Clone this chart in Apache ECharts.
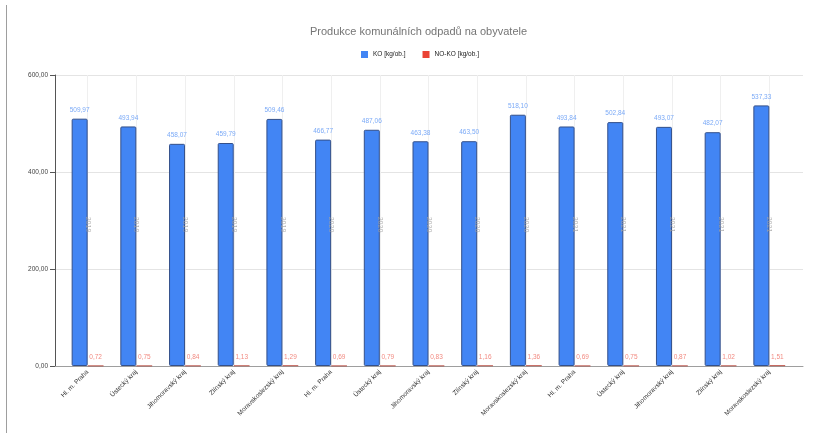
<!DOCTYPE html>
<html><head><meta charset="utf-8">
<script src="https://cdn.jsdelivr.net/npm/echarts@6/dist/echarts.min.js"></script>
<style>html,body{margin:0;padding:0;background:#fff}#c{width:819px;height:433px}</style>
</head><body><div id="c"></div>
<script>
const categories = ['Hl. m. Praha','Ústecký kraj','Jihomoravský kraj','Zlínský kraj','Moravskoslezský kraj',
  'Hl. m. Praha','Ústecký kraj','Jihomoravský kraj','Zlínský kraj','Moravskoslezský kraj',
  'Hl. m. Praha','Ústecký kraj','Jihomoravský kraj','Zlínský kraj','Moravskoslezský kraj'];
const years = ['2019','2019','2019','2019','2019','2020','2020','2020','2020','2020','2021','2021','2021','2021','2021'];
const koValues = [509.97,493.94,458.07,459.79,509.46,466.77,487.06,463.38,463.50,518.10,493.84,502.84,493.07,482.07,537.33];
const nokoValues = [0.72,0.75,0.84,1.13,1.29,0.69,0.79,0.83,1.16,1.36,0.69,0.75,0.87,1.02,1.51];
const yearLabelLevel = 300;
const yTicks = {min: 0, max: 600, interval: 200};

const FONT = 'Liberation Sans';
const fmt = v => v.toFixed(2).replace('.', ',');
const chart = echarts.init(document.getElementById('c'), null, {renderer: 'canvas'});
const gTop = 75, gBottom = 67;
chart.setOption({
  animation: false,
  title: {text: 'Produkce komunálních odpadů na obyvatele', left: 305, top: 21, padding: 5,
    textStyle: {color: '#757575', fontSize: 11, fontWeight: 'normal', fontFamily: FONT}},
  legend: {top: 46, left: 356, padding: 5, itemWidth: 7, itemHeight: 7, itemGap: 17, icon: 'rect',
    itemStyle: {borderWidth: 0},
    textStyle: {fontSize: 6.5, color: '#222', fontFamily: FONT},
    data: ['KO [kg/ob.]', 'NO-KO [kg/ob.]']},
  graphic: [{type: 'line', shape: {x1: 6.5, y1: 5, x2: 6.5, y2: 433}, style: {stroke: '#9e9e9e', lineWidth: 1}}],
  grid: [
    {left: 55, right: 16, top: gTop, bottom: gBottom},
    {left: 63.3, right: 25.3, top: gTop, bottom: gBottom},
    {left: 87.7, right: 49.7, top: gTop, bottom: gBottom}
  ],
  xAxis: [
    {type: 'value', gridIndex: 0, min: 0, max: 1, axisLine: {show: true, onZero: false, lineStyle: {color: '#9e9e9e'}},
      axisTick: {show: false}, axisLabel: {show: false}, splitLine: {show: false}},
    {type: 'category', gridIndex: 1, data: categories,
      axisLine: {show: false}, axisTick: {show: false}, splitLine: {show: false},
      axisLabel: {rotate: 45, fontSize: 6.5, color: '#333', interval: 0, margin: 5, fontFamily: FONT}},
    {type: 'category', gridIndex: 2, data: years, boundaryGap: false,
      axisLine: {show: false}, axisTick: {show: false}, axisLabel: {show: false},
      splitLine: {show: true, interval: 0, lineStyle: {color: '#efefef'}}}
  ],
  yAxis: [
    {type: 'value', gridIndex: 0, min: yTicks.min, max: yTicks.max, interval: yTicks.interval,
      axisLine: {show: true, lineStyle: {color: '#555'}},
      axisTick: {show: true, length: 5, lineStyle: {color: '#555'}},
      splitLine: {lineStyle: {color: '#e4e4e4'}},
      axisLabel: {fontSize: 6.5, color: '#444', margin: 7, formatter: v => fmt(v), fontFamily: FONT}},
    {type: 'value', gridIndex: 1, min: yTicks.min, max: yTicks.max, show: false},
    {type: 'value', gridIndex: 2, min: yTicks.min, max: yTicks.max, show: false}
  ],
  series: [
    {name: 'KO [kg/ob.]', type: 'bar', xAxisIndex: 1, yAxisIndex: 1, data: koValues, barWidth: 16, barGap: '0%',
      itemStyle: {color: '#4285f4', borderColor: '#34508a', borderWidth: 1, borderRadius: 1},
      label: {show: true, position: 'top', distance: 5, fontSize: 6.5, color: '#7baaf7', formatter: p => fmt(p.value), fontFamily: FONT}},
    {name: 'NO-KO [kg/ob.]', type: 'bar', xAxisIndex: 1, yAxisIndex: 1, data: nokoValues, barWidth: 16,
      itemStyle: {color: '#ea4335', borderColor: '#b03a2e', borderWidth: 0.5},
      label: {show: true, position: 'top', distance: 5, fontSize: 6.5, color: '#f28b82', formatter: p => fmt(p.value), fontFamily: FONT}},
    {name: 'year', type: 'scatter', xAxisIndex: 2, yAxisIndex: 2, data: years.map(() => yearLabelLevel), symbolSize: 0, silent: true,
      label: {show: true, rotate: -90, offset: [4, 0], fontSize: 7, color: '#a0a0a0', position: 'inside',
        formatter: p => years[p.dataIndex], fontFamily: FONT}}
  ]
});
</script></body></html>
